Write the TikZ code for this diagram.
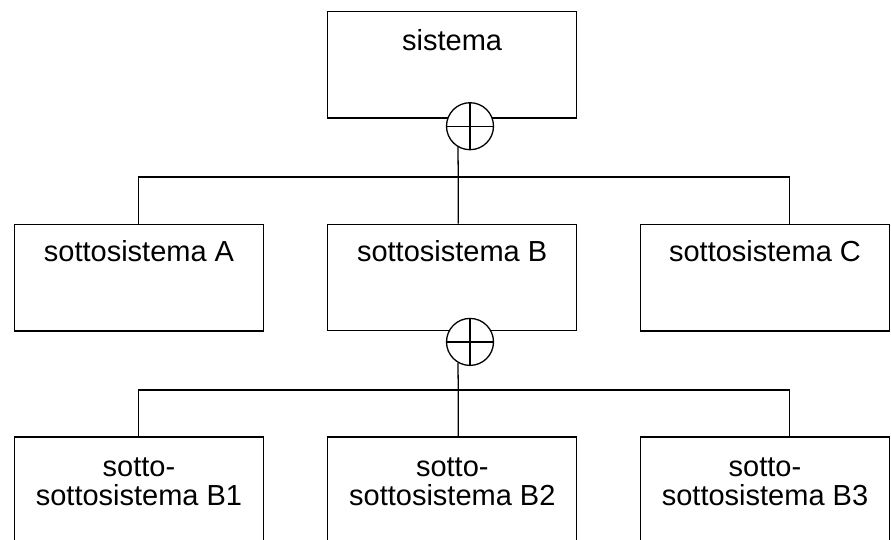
\documentclass[tikz,border=0pt]{standalone}
\usepackage{fontspec}
\setmainfont{Liberation Sans}
\begin{document}
\begin{tikzpicture}[x=1pt,y=-1pt,
  box/.style={draw,line width=1.3pt,rectangle,inner sep=0pt,minimum width=249pt,minimum height=106.5pt},
  lbl/.style={anchor=base,inner sep=0pt,font=\fontsize{29}{35}\selectfont},
  plus/.style={draw,line width=1.3pt,circle,inner sep=0pt,minimum size=47pt,fill=white},
  conn/.style={line width=1.3pt}]
\useasboundingbox (0,0) rectangle (891,539);
\clip (0,0) rectangle (891,539);
% boxes
\node[box] (S) at (452.1,64.85) {};
\node[box] (A) at (139,277.7) {};
\node[box] (B) at (452.1,277.5) {};
\node[box] (C) at (765,277.8) {};
\node[box,minimum height=160pt] (B1) at (139,517) {};
\node[box,minimum height=160pt] (B2) at (452.3,517) {};
\node[box,minimum height=160pt] (B3) at (765,517) {};
% labels
\node[lbl] (tS) at (452.1,50) {sistema};
\node[lbl] (tA) at (139,261.7) {sottosistema A};
\node[lbl] (tB) at (452.1,261.7) {sottosistema B};
\node[lbl] (tC) at (765,261.7) {sottosistema C};
\node[lbl] (tB1a) at (139,476.7) {sotto-};
\node[lbl] (tB1b) at (139,505) {sottosistema B1};
\node[lbl] (tB2a) at (452.3,476.7) {sotto-};
\node[lbl] (tB2b) at (452.3,505) {sottosistema B2};
\node[lbl] (tB3a) at (765,476.7) {sotto-};
\node[lbl] (tB3b) at (765,505) {sottosistema B3};
% junction circles
\node[plus] (c1) at (470,126.2) {};
\draw[conn] (c1.north) -- (c1.south) (c1.west) -- (c1.east);
\node[plus] (c2) at (470,341.9) {};
\draw[conn] (c2.north) -- (c2.south) (c2.west) -- (c2.east);
% connectors level 1
\coordinate (j1L) at (138.7,177);
\coordinate (j1M) at (458.3,177);
\coordinate (j1R) at (789.3,177);
\draw[conn] (c1.240) -- (j1M) -- (j1M |- B.north);
\draw[conn] (j1L |- A.north) -- (j1L) -- (j1R) -- (j1R |- C.north);
% connectors level 2
\coordinate (j2L) at (138.7,390);
\coordinate (j2M) at (458.3,390);
\coordinate (j2R) at (789.3,390);
\draw[conn] (c2.240) -- (j2M) -- (j2M |- B2.north);
\draw[conn] (j2L |- B1.north) -- (j2L) -- (j2R) -- (j2R |- B3.north);
\end{tikzpicture}
\end{document}
